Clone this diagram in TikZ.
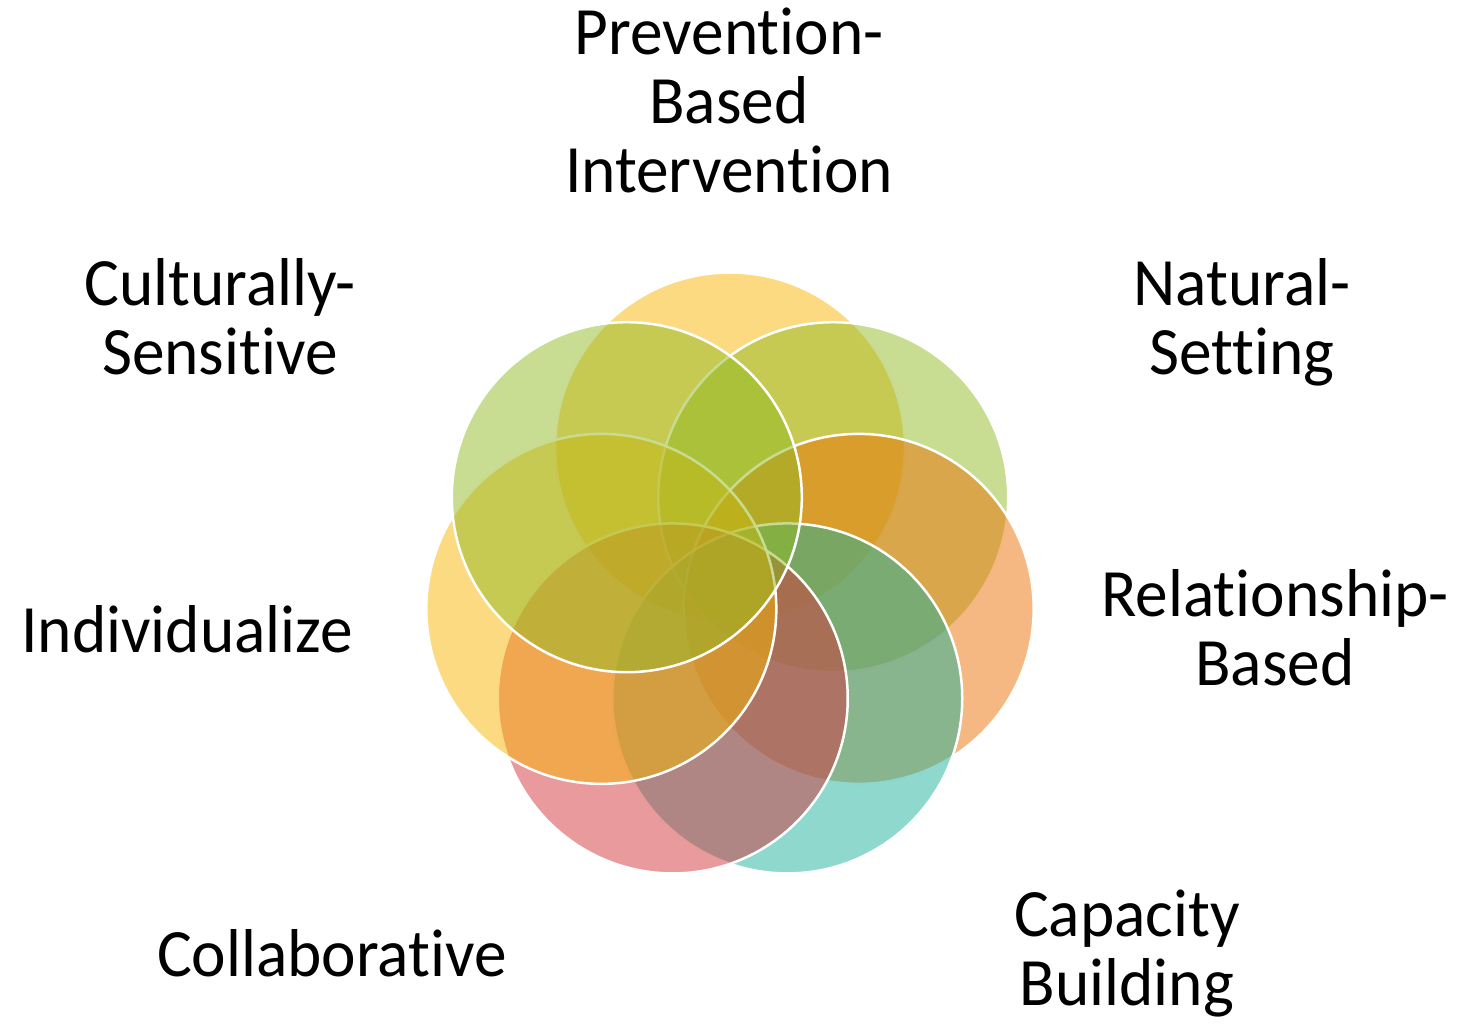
\documentclass[tikz,border=0pt]{standalone}
\usepackage{fontspec}
\setmainfont{Carlito}[RawFeature=-liga, FakeStretch=0.965]
\usetikzlibrary{calc}
\begin{document}
\begin{tikzpicture}[x=1pt,y=-1pt]
  \definecolor{petalyellow}{RGB}{247,181,3}
  \definecolor{petalgreen}{RGB}{145,185,37}
  \definecolor{petalorange}{RGB}{235,113,7}
  \definecolor{petalteal}{RGB}{29,177,155}
  \definecolor{petalpink}{RGB}{211,53,59}
  \tikzset{
    petal/.style={circle, minimum size=350pt, inner sep=0pt, fill=#1,
      fill opacity=0.5, draw=white, line width=2.5pt},
    caption/.style={font=\fontsize{67.7}{69}\selectfont, align=center,
      anchor=base, inner sep=0pt}
  }
  \useasboundingbox (0,0) rectangle (1465,1024);
  \coordinate (hub) at (730,579.5);
  % seven overlapping circles, clockwise from the top
  \node[petal=petalyellow] (p1) at ($(hub)+(-90:132)$) {};
  \node[petal=petalgreen]  (p2) at ($(hub)+(-38.57:132)$) {};
  \node[petal=petalorange] (p3) at ($(hub)+(12.86:132)$) {};
  \node[petal=petalteal]   (p4) at ($(hub)+(64.29:132)$) {};
  \node[petal=petalpink]   (p5) at ($(hub)+(115.71:132)$) {};
  \node[petal=petalyellow] (p6) at ($(hub)+(167.14:132)$) {};
  \node[petal=petalgreen]  (p7) at ($(hub)+(218.57:132)$) {};
  % captions (anchored at the baseline of their last line)
  \node[caption] (t1) at (729,193) {Prevention-\\Based\\Intervention};
  \node[caption] (t2) at (1242,374) {Natural-\\Setting};
  \node[caption] (t3) at (1275,685) {Relationship-\\Based};
  \node[caption] (t4) at (1127,1005) {Capacity\\Building};
  \node[caption] (t5) at (332,976) {Collaborative};
  \node[caption] (t6) at (187,652) {Individualize};
  \node[caption] (t7) at (220,374) {Culturally-\\Sensitive};
\end{tikzpicture}
\end{document}
